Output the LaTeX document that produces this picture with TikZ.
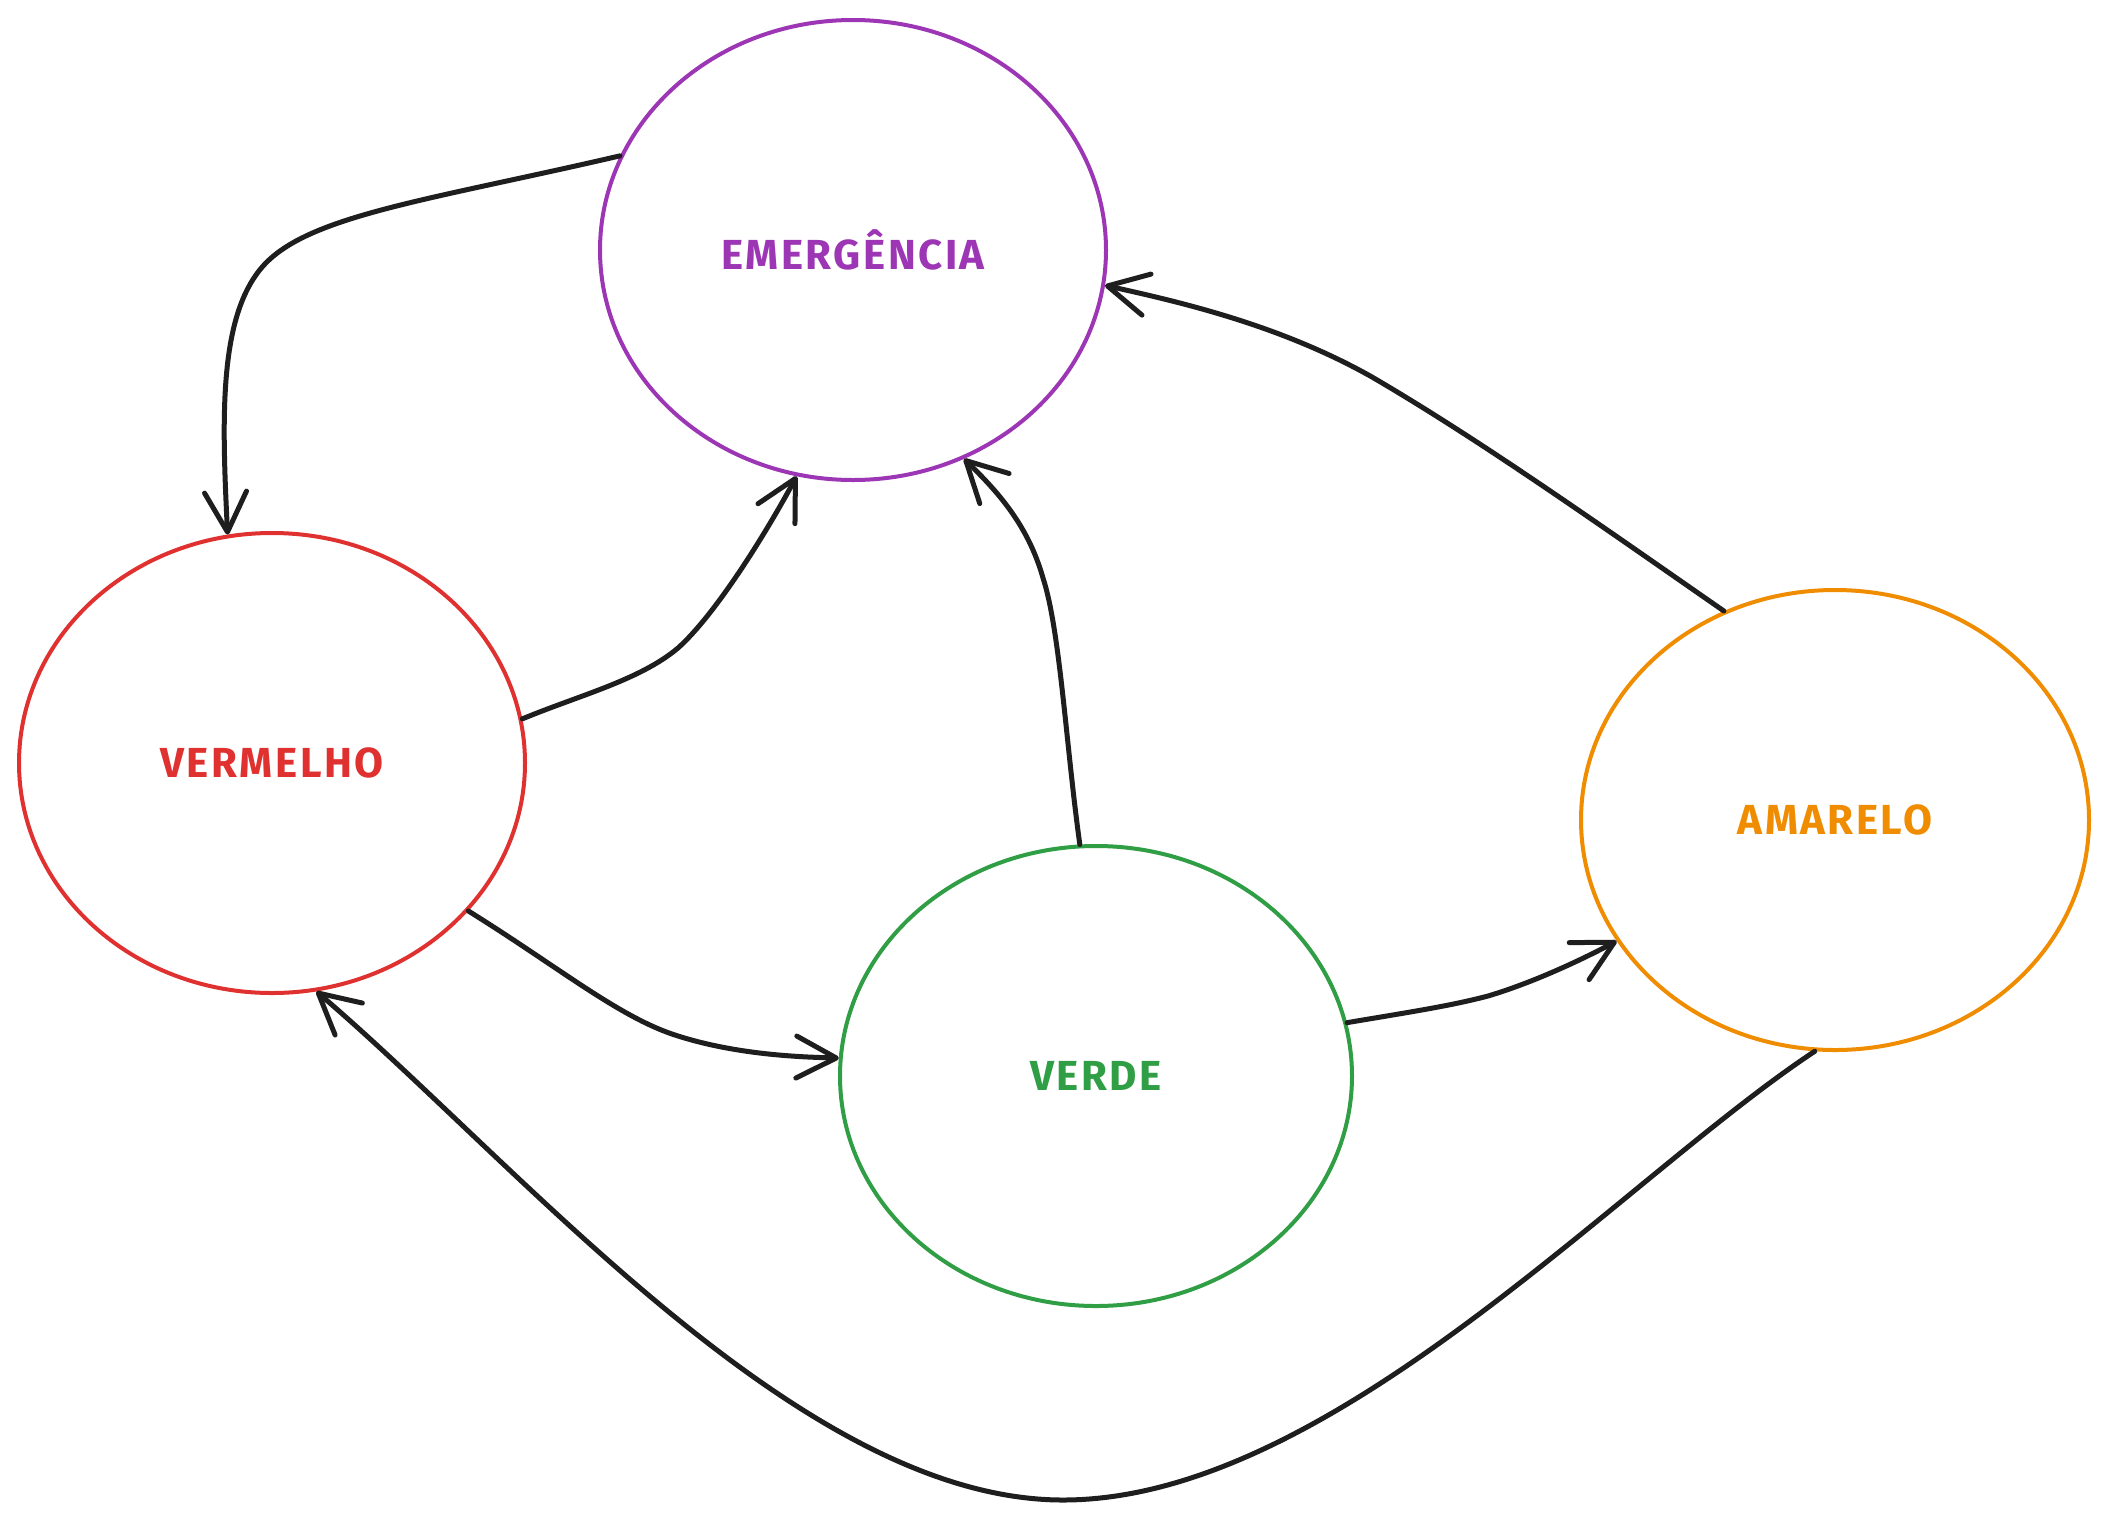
\documentclass[tikz,border=0pt]{standalone}
\usepackage{fontspec}
\setmainfont{Fira Sans}
\newfontfamily\lblfont{Fira Sans}[LetterSpace=6]
\usetikzlibrary{arrows.meta,shapes.geometric}
\definecolor{cpurple}{HTML}{9C36B5}
\definecolor{cred}{HTML}{E03131}
\definecolor{cgreen}{HTML}{2F9E44}
\definecolor{corange}{HTML}{F08C00}
\definecolor{ink}{HTML}{1E1E1E}
\begin{document}
\begin{tikzpicture}[x=1pt,y=-1pt,
  state/.style={ellipse, draw, line width=4pt, inner sep=0pt,
    minimum width=506pt, minimum height=460pt,
    font=\lblfont\bfseries\fontsize{42}{50}\selectfont},
  conn/.style={draw=ink, line width=5pt, line cap=round, line join=round,
    -{Straight Barb[length=40pt,width=42pt,line cap=round,line join=round]}}]
\useasboundingbox (0,0) rectangle (2109,1521);
\fill[white] (0,0) rectangle (2109,1521);

\node[state, draw=cpurple, text=cpurple] (em) at (853,250) {EMERGÊNCIA};
\node[state, draw=cred, text=cred] (vm) at (272,763) {VERMELHO};
\node[state, draw=cgreen, text=cgreen, minimum width=512pt] (vd) at (1096,1076) {VERDE};
\node[state, draw=corange, text=corange, minimum width=508pt] (am) at (1835,820) {AMARELO};

% EMERGENCIA -> VERMELHO
\draw[conn] (em.158) .. controls (430,200) and (310,215) .. (264,265)
  .. controls (218,315) and (222,420) .. (vm.101);
% VERMELHO -> EMERGENCIA
\draw[conn] (vm.10) .. controls (580,695) and (640,680) .. (678,648)
  .. controls (715,615) and (765,535) .. (em.256);
% VERMELHO -> VERDE
\draw[conn] (vm.-37) .. controls (560,968) and (620,1018) .. (678,1036)
  .. controls (735,1054) and (795,1057) .. (vd.176);
% VERDE -> AMARELO
\draw[conn] (vd.12.5) .. controls (1410,1012) and (1450,1006) .. (1488,996)
  .. controls (1535,982) and (1585,958) .. (am.209);
% VERDE -> EMERGENCIA
\draw[conn] (vd.94) .. controls (1066,745) and (1060,630) .. (1043,578)
  .. controls (1028,525) and (998,492) .. (em.298);
% AMARELO -> EMERGENCIA
\draw[conn] (am.118.5) .. controls (1600,525) and (1480,440) .. (1372,377)
  .. controls (1280,325) and (1180,302) .. (em.-8);
% AMARELO -> VERMELHO
\draw[conn] (am.265.4) .. controls (1620,1180) and (1330,1500) .. (1063,1500)
  .. controls (800,1500) and (520,1165) .. (vm.281.7);
\end{tikzpicture}
\end{document}
